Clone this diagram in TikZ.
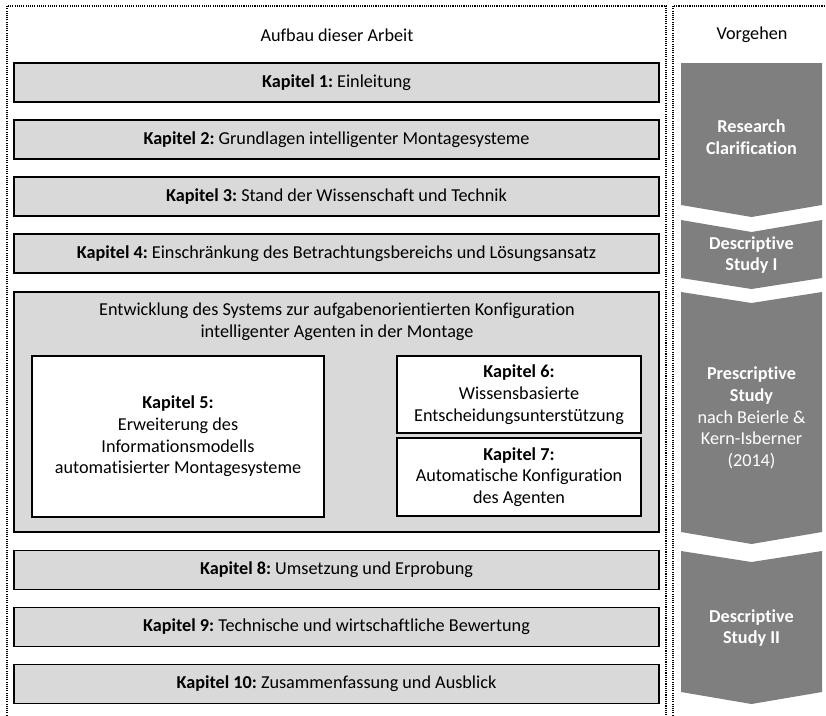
\documentclass[tikz,border=0pt]{standalone}
\usepackage{fontspec}
\setmainfont{Carlito}[Ligatures={NoCommon}]
\definecolor{barfill}{HTML}{D9D9D9}
\definecolor{chevgray}{HTML}{7F7F7F}
\newcommand{\txtsize}{\fontsize{18.2}{21.7}\selectfont}
\frenchspacing
\begin{document}
\begin{tikzpicture}[x=1pt,y=-1pt,
  frameline/.style={line width=1.1pt, dash pattern=on 1.1pt off 1.1pt},
  bar/.style={draw=black, line width=1.4pt, fill=barfill, minimum width=645pt,
    minimum height=39pt, inner sep=0pt, font=\txtsize},
  sub/.style={draw=black, line width=1.2pt, fill=white, inner sep=0pt,
    align=center, font=\txtsize},
  chev/.style={fill=chevgray},
  chevtext/.style={text=white, align=center, font=\txtsize}]
\useasboundingbox (0,0) rectangle (826,715);

% dotted frames
\draw[frameline] (7,720) -- (7,6) -- (666,6) -- (666,720);
\draw[frameline] (673,720) -- (673,6) -- (830,6);

% headings
\node[font=\txtsize] (hleft) at (337,35) {Aufbau dieser Arbeit};
\node[font=\txtsize] (hright) at (752,35) {Vorgehen};

% chapter bars
\node[bar] (k1) at (336.5,82.5) {\textbf{Kapitel 1:} Einleitung};
\node[bar] (k2) at (336.5,139.5) {\textbf{Kapitel 2:} Grundlagen intelligenter Montagesysteme};
\node[bar] (k3) at (336.5,196.5) {\textbf{Kapitel 3:} Stand der Wissenschaft und Technik};
\node[bar] (k4) at (336.5,253.5) {\textbf{Kapitel 4:} Einschränkung des Betrachtungsbereichs und Lösungsansatz};

% development block
\node[bar, minimum height=240pt] (dev) at (336.5,412) {};
\node[font=\txtsize, align=center] (devtitle) at (337,322)
  {Entwicklung des Systems zur aufgabenorientierten Konfiguration\\intelligenter Agenten in der Montage};
\node[sub, minimum width=292pt, minimum height=161pt] (k5) at (178,436.5)
  {\textbf{Kapitel 5:}\\Erweiterung des\\Informationsmodells\\automatisierter Montagesysteme};
\node[sub, minimum width=244pt, minimum height=77pt] (k6) at (519,394.5)
  {\textbf{Kapitel 6:}\\Wissensbasierte\\Entscheidungsunterstützung};
\node[sub, minimum width=244pt, minimum height=78pt] (k7) at (519,477)
  {\textbf{Kapitel 7:}\\Automatische Konfiguration\\des Agenten};

\node[bar] (k8) at (336.5,570) {\textbf{Kapitel 8:} Umsetzung und Erprobung};
\node[bar] (k9) at (336.5,627) {\textbf{Kapitel 9:} Technische und wirtschaftliche Bewertung};
\node[bar] (k10) at (336.5,684) {\textbf{Kapitel 10:} Zusammenfassung und Ausblick};

% process chevrons
\fill[chev] (681,63) -- (822,63) -- (822,205) -- (751.5,217) -- (681,205) -- cycle;
\node[chevtext] (rc) at (751.5,137) {\textbf{Research}\\\textbf{Clarification}};

\fill[chev] (681,220) -- (751.5,232) -- (822,220) -- (822,278) -- (751.5,289) -- (681,278) -- cycle;
\node[chevtext] (ds1) at (751.5,255) {\textbf{Descriptive}\\\textbf{Study I}};

\fill[chev] (681,292) -- (751.5,303) -- (822,292) -- (822,532) -- (751.5,544) -- (681,532) -- cycle;
\node[chevtext] (ps) at (751.5,418) {\textbf{Prescriptive}\\\textbf{Study}\\nach Beierle \&\\Kern-Isberner\\(2014)};

\fill[chev] (681,551) -- (751.5,562) -- (822,551) -- (822,692) -- (751.5,704) -- (681,692) -- cycle;
\node[chevtext] (ds2) at (751.5,628) {\textbf{Descriptive}\\\textbf{Study II}};
\end{tikzpicture}
\end{document}
